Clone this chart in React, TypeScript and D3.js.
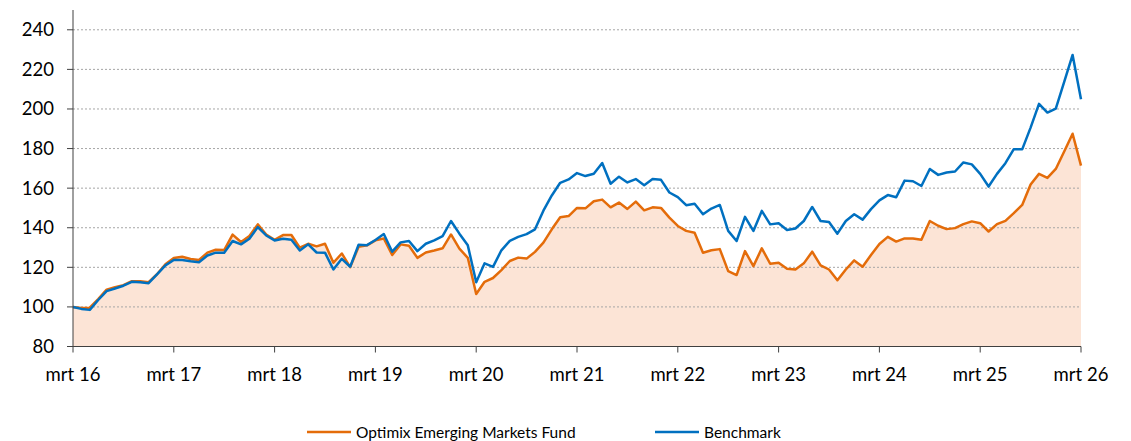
import React from "react";
import * as d3 from "d3";

const xTickLabels = ["mrt 16", "mrt 17", "mrt 18", "mrt 19", "mrt 20", "mrt 21", "mrt 22", "mrt 23", "mrt 24", "mrt 25", "mrt 26"];
const yTicks = [80, 100, 120, 140, 160, 180, 200, 220, 240];
const seriesNames = ["Optimix Emerging Markets Fund", "Benchmark"];

const fund = [
  100, 99.5, 99.6, 104, 108.7, 110, 111, 113, 113, 112.5, 116.5, 121.5,
  124.7, 125.3, 124.2, 123.7, 127.4, 128.9, 128.7, 136.5, 132.8, 135.8, 141.7, 136.6,
  133.9, 136.3, 136.3, 129.9, 131.9, 130.6, 131.9, 122.3, 127, 120.1, 130.4, 131.1,
  133.6, 134.6, 126.2, 131.6, 130.9, 124.8, 127.5, 128.5, 129.6, 136.6, 129.4, 124.8,
  106.5, 112.7, 114.6, 118.6, 123.2, 124.9, 124.4, 127.8, 132.5, 139.2, 145.3, 145.9,
  150, 149.8, 153.4, 154.2, 150.3, 152.7, 149.5, 153.2, 148.8, 150.3, 150, 145.1,
  140.9, 138.4, 137.5, 127.4, 128.6, 129.2, 118.1, 116.1, 128.2, 120.6, 129.6, 121.8,
  122.3, 119.3, 118.9, 122, 127.9, 121, 118.9, 113.5, 118.9, 123.5, 120.3, 126.2,
  131.8, 135.4, 133, 134.6, 134.6, 133.9, 143.4, 141, 139.3, 139.8, 141.8, 143.2,
  142.3, 138.1, 141.8, 143.5, 147.4, 151.5, 161.8, 167.2, 165.2, 169.7, 178.5, 187.5,
  171.4,
];

const benchmark = [
  100, 99, 98.5, 103.5, 108, 109.3, 110.7, 112.7, 112.4, 112, 116.4, 121,
  123.7, 123.7, 123.1, 122.6, 126, 127.4, 127.4, 133.3, 131.6, 134.4, 140.3, 136.1,
  133.6, 134.4, 133.9, 128.5, 131.6, 127.5, 127.4, 118.9, 124.3, 120.3, 131.4, 131.2,
  133.8, 136.8, 127.9, 132.6, 133.3, 128.2, 131.9, 133.6, 135.8, 143.4, 137, 131.1,
  112.5, 122, 120.2, 128.6, 133.4, 135.4, 136.8, 139.2, 148.6, 156.3, 162.7, 164.4,
  167.6, 166.1, 167.3, 172.7, 162.2, 165.8, 162.9, 164.6, 161.5, 164.6, 164.2, 157.8,
  155.5, 151.4, 152.1, 146.8, 149.7, 151.5, 138.4, 133.3, 145.5, 138.4, 148.5, 141.7,
  142.3, 138.9, 139.6, 143.4, 150.5, 143.4, 142.9, 137, 143.4, 146.8, 144.1, 149.4,
  153.8, 156.5, 155.4, 163.8, 163.5, 161.1, 169.7, 166.7, 167.9, 168.4, 173, 172,
  167.2, 160.8, 167.2, 172.6, 179.7, 179.6, 190.6, 202.6, 198.2, 200.2, 213.7, 227.3,
  204.9,
];

const W = 1131;
const H = 441;
const ORANGE = "#E46C0A";
const BLUE = "#0070C0";
const FILL = "#FCE4D6";
const FONT = "Lato, 'Open Sans', sans-serif";

export default function App() {
  const x = d3.scaleLinear().domain([0, fund.length - 1]).range([73, 1081]);
  const y = d3.scaleLinear().domain([80, 250]).range([346.5, 10]);

  const area = d3
    .area<number>()
    .x((_, i) => x(i))
    .y0(y(80))
    .y1((d) => y(d));
  const line = d3
    .line<number>()
    .x((_, i) => x(i))
    .y((d) => y(d));

  const xTicks = xTickLabels.map((_, k) => k * 12);

  return (
    <svg
      width={W}
      height={H}
      style={{ position: "absolute", left: 0, top: 0, display: "block" }}
      fontFamily={FONT}
    >
      <rect x={0} y={0} width={W} height={H} fill="#fff" />
      <path d={area(fund) || ""} fill={FILL} />
      {yTicks
        .filter((t) => t > 80)
        .map((t) => (
          <line
            key={"g" + t}
            x1={x(0)}
            x2={x(fund.length - 1)}
            y1={y(t)}
            y2={y(t)}
            stroke="#A6A6A6"
            strokeWidth={1}
            strokeDasharray="2 2"
          />
        ))}
      <path d={line(fund) || ""} fill="none" stroke={ORANGE} strokeWidth={2.5} strokeLinejoin="round" />
      <path d={line(benchmark) || ""} fill="none" stroke={BLUE} strokeWidth={2.5} strokeLinejoin="round" />
      {/* axes */}
      <line x1={x(0)} x2={x(0)} y1={y(250)} y2={y(80)} stroke="#404040" strokeWidth={1} />
      <line x1={x(0)} x2={x(fund.length - 1)} y1={y(80)} y2={y(80)} stroke="#404040" strokeWidth={1} />
      {yTicks.map((t) => (
        <g key={"y" + t}>
          <line x1={x(0) - 6} x2={x(0)} y1={y(t)} y2={y(t)} stroke="#404040" strokeWidth={1} />
          <text x={54} y={y(t)} dy="0.35em" textAnchor="end" fontSize={18.5} fill="#000">
            {t}
          </text>
        </g>
      ))}
      {xTicks.map((t, k) => (
        <g key={"x" + t}>
          <line x1={x(t)} x2={x(t)} y1={y(80)} y2={y(80) + 6} stroke="#404040" strokeWidth={1} />
          <text x={x(t)} y={381} textAnchor="middle" fontSize={18.5} fill="#000">
            {xTickLabels[k]}
          </text>
        </g>
      ))}
      {/* legend */}
      <line x1={307} x2={351} y1={432} y2={432} stroke={ORANGE} strokeWidth={2.5} />
      <text x={356} y={438} fontSize={15.5} fill="#000">
        {seriesNames[0]}
      </text>
      <line x1={655} x2={699} y1={432} y2={432} stroke={BLUE} strokeWidth={2.5} />
      <text x={704} y={438} fontSize={15.5} fill="#000">
        {seriesNames[1]}
      </text>
    </svg>
  );
}
